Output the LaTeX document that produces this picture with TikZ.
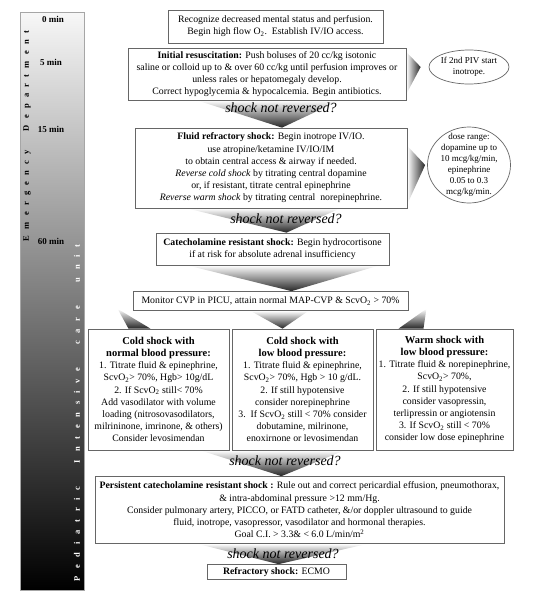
\documentclass[tikz,border=0pt]{standalone}
\usepackage{fontspec}
\setmainfont{Liberation Serif}
\usetikzlibrary{shapes.geometric,backgrounds}

\newcommand{\hdr}[1]{{\fontsize{10.5}{13}\selectfont\bfseries #1}}

\begin{document}
\begin{tikzpicture}[x=1pt, y=-1pt,
    box/.style={draw=black!60, line width=0.7pt, fill=white, align=center, inner sep=1.5pt, font=\fontsize{9.8}{12.2}\selectfont},
    bubble/.style={ellipse, draw=black!60, line width=0.7pt, fill=white, align=center, inner sep=-4pt, font=\fontsize{9}{11}\selectfont},
    ask/.style={font=\fontsize{14}{16}\selectfont\itshape},
    tmark/.style={font=\fontsize{9}{10}\selectfont\bfseries},
    funnel/.style={top color=white, bottom color=black!85},
    pointer/.style={left color=white, right color=black!85}]

    \useasboundingbox (0,0) rectangle (553,592);

    % time bar on the left
    \shade[top color=black!3, middle color=black!50, bottom color=black] (20,12) rectangle (84,590);
    \draw[black!35, line width=0.5pt] (20,12) rectangle (84,590);
    \node[tmark] (t0) at (53,19) {0 min};
    \node[tmark] (t5) at (51,62) {5 min};
    \node[tmark] (t15) at (51,129) {15 min};
    \node[tmark] (t60) at (51,241) {60 min};
    \node[rotate=90, font=\fontsize{8.5}{8.5}\selectfont\bfseries] (ed) at (27,136)
        {\makebox[210pt][s]{E m e r g e n c y \ \ D e p a r t m e n t}};
    \node[rotate=90, text=white, font=\fontsize{8.5}{8.5}\selectfont\bfseries] (picu) at (77,413)
        {\makebox[337pt][s]{P e d i a t r i c \ \ I n t e n s i v e \ \ c a r e \ \ u n i t}};

    % steps
    \node[box, minimum width=215pt, minimum height=33pt] (recog) at (275.5,26.5)
        {Recognize decreased mental status and perfusion.\\
         Begin high flow O\textsubscript{2}.\ \ Establish IV/IO access.};
    \node[box, minimum width=278pt, minimum height=52pt] (init) at (267,74)
        {\textbf{Initial resuscitation:} Push boluses of 20 cc/kg isotonic\\
         saline or colloid up to \& over 60 cc/kg until perfusion improves or\\
         unless rales or hepatomegaly develop.\\
         Correct hypoglycemia \& hypocalcemia. Begin antibiotics.};
    \node[bubble, minimum width=80pt, minimum height=34pt] (piv) at (469,67)
        {If 2nd PIV start\\inotrope.};
    \node[box, minimum width=272pt, minimum height=80pt] (fluid) at (271,168)
        {\textbf{Fluid refractory shock:} Begin inotrope IV/IO.\\
         use atropine/ketamine IV/IO/IM\\
         to obtain central access \& airway if needed.\\
         \textit{Reverse cold shock} by titrating central dopamine\\
         or, if resistant, titrate central epinephrine\\
         \textit{Reverse warm shock} by titrating central\ \ norepinephrine.};
    \node[bubble, inner sep=-13pt, minimum width=83pt, minimum height=76pt] (dose) at (469,165)
        {dose range:\\dopamine up to\\10 mcg/kg/min,\\epinephrine\\0.05 to 0.3\\mcg/kg/min.};
    \node[box, minimum width=233pt, minimum height=32pt] (cate) at (272.5,249)
        {\textbf{Catecholamine resistant shock:} Begin hydrocortisone\\
         if at risk for absolute adrenal insufficiency};
    \node[box, minimum width=275pt, minimum height=19pt] (cvp) at (270.5,301)
        {Monitor CVP in PICU, attain normal MAP-CVP \& ScvO\textsubscript{2} > 70\%};

    % three shock states
    \node[box, minimum width=141pt, minimum height=121pt] (coldn) at (158.5,389.5)
        {\hdr{Cold shock with}\\ \hdr{normal blood pressure:}\\
         1. Titrate fluid \& epinephrine,\\
         ScvO\textsubscript{2}> 70\%, Hgb> 10g/dL\\
         2. If ScvO\textsubscript{2} still< 70\%\\
         Add vasodilator with volume\\
         loading (nitrosovasodilators,\\
         milrininone, imrinone, \& others)\\
         Consider levosimendan};
    \node[box, minimum width=141pt, minimum height=121pt] (coldl) at (302.5,389.5)
        {\hdr{Cold shock with}\\ \hdr{low blood pressure:}\\
         1. Titrate fluid \& epinephrine,\\
         ScvO\textsubscript{2}> 70\%, Hgb > 10 g/dL.\\
         2. If still hypotensive\\
         consider norepinephrine\\
         3.\ \ If ScvO\textsubscript{2} still < 70\% consider\\
         dobutamine, milrinone,\\
         enoxirnone or levosimendan};
    \node[box, minimum width=137pt, minimum height=121pt] (warm) at (444.5,389.5)
        {\hdr{Warm shock with}\\ \hdr{low blood pressure:}\\
         1. Titrate fluid \& norepinephrine,\\
         ScvO\textsubscript{2}> 70\%,\\
         2. If still hypotensive\\
         consider vasopressin,\\
         terlipressin or angiotensin\\
         3. If ScvO\textsubscript{2} still < 70\%\\
         consider low dose epinephrine};

    \node[box, minimum width=409pt, minimum height=67pt] (persist) at (299.5,510)
        {\textbf{Persistent catecholamine resistant shock :} Rule out and correct pericardial effusion, pneumothorax,\\
         \& intra-abdominal pressure >12 mm/Hg.\\
         Consider pulmonary artery, PICCO, or FATD catheter, \&/or doppler ultrasound to guide\\
         fluid, inotrope, vasopressor, vasodilator and hormonal therapies.\\
         Goal C.I. > 3.3\& < 6.0 L/min/m\textsuperscript{2}};
    \node[box, minimum width=139pt, minimum height=15pt] (ecmo) at (276.5,572)
        {\textbf{Refractory shock:} ECMO};

    % questions
    \node[ask] (q1) at (281,108) {shock not reversed?};
    \node[ask] (q2) at (286,219) {shock not reversed?};
    \node[ask] (q3) at (285,461) {shock not reversed?};
    \node[ask] (q4) at (283,554) {shock not reversed?};

    % shaded arrows
    \begin{scope}[on background layer]
        \shade[funnel] ([xshift=-70pt]init.south) -- ([xshift=73pt]init.south) -- ([xshift=11pt]fluid.north) -- cycle;
        \shade[funnel] ([xshift=-84pt]fluid.south) -- ([xshift=69pt]fluid.south) -- ([xshift=14pt]cate.north) -- cycle;
        \shade[funnel] ([xshift=-85pt]cate.south) -- ([xshift=107pt]cate.south) -- ([xshift=21pt]cvp.north) -- cycle;
        \shade[funnel] ([xshift=-15pt,yshift=2pt]cvp.south west) -- ([xshift=-30pt]coldn.north) -- ([xshift=-8pt]coldn.north) -- cycle;
        \shade[funnel] ([xshift=-20pt]cvp.south) -- ([xshift=38pt]cvp.south) -- ([xshift=-20pt]coldl.north) -- cycle;
        \shade[funnel] ([xshift=18pt,yshift=2pt]cvp.south east) -- ([xshift=-46pt]warm.north) -- ([xshift=-21pt]warm.north) -- cycle;
        \shade[funnel] ([xshift=-29pt]coldn.south east) -- ([xshift=42pt]coldl.south) -- ([xshift=-18pt]persist.north) -- cycle;
        \shade[funnel] ([xshift=-102pt]persist.south) -- ([xshift=68pt]persist.south) -- ([xshift=2pt]ecmo.north) -- cycle;
        \shade[pointer] ([yshift=22pt]init.east) -- ([xshift=-8pt]piv.west) -- ([yshift=-20pt]init.east) -- cycle;
        \shade[pointer] ([yshift=22pt]fluid.east) -- ([xshift=-2pt]dose.west) -- ([yshift=-36pt]fluid.east) -- cycle;
    \end{scope}
\end{tikzpicture}
\end{document}
